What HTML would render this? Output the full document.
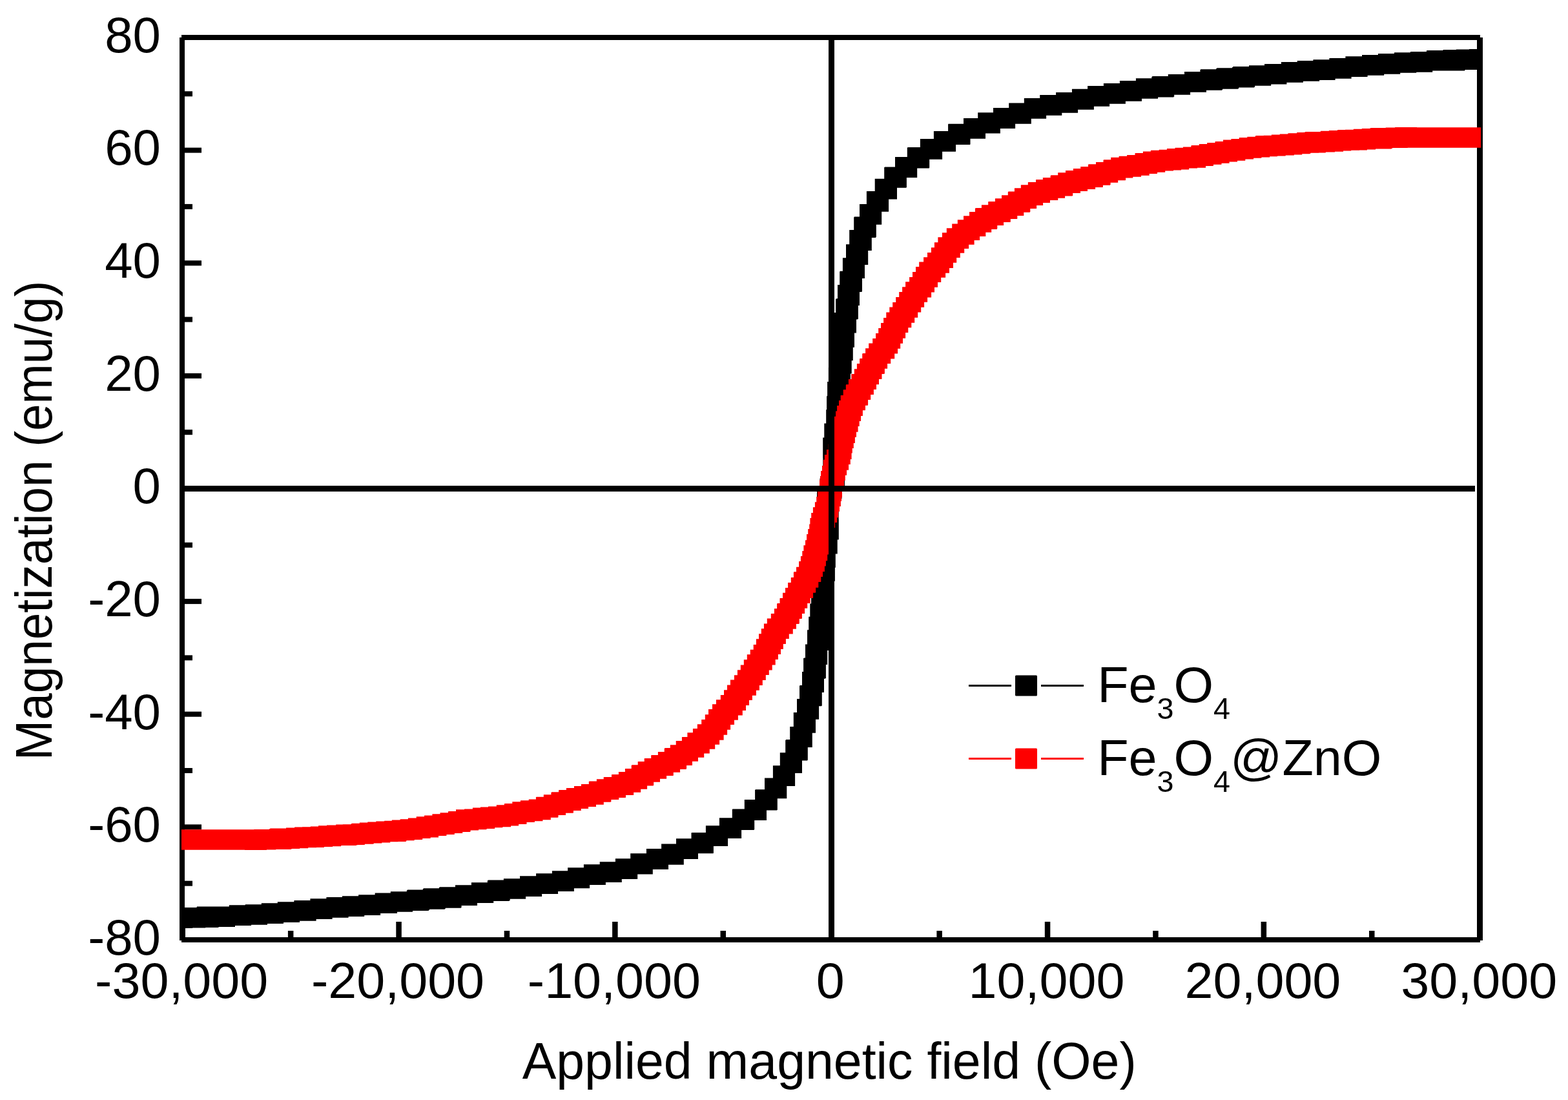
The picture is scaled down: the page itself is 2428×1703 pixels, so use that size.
<!DOCTYPE html>
<html><head><meta charset="utf-8"><title>Magnetization curves</title>
<style>html,body{margin:0;padding:0;background:#fff;}body{width:2428px;height:1703px;overflow:hidden;}svg{display:block;}</style>
</head><body>
<svg width="2428" height="1703" viewBox="0 0 2428 1703"><g fill="#000"><rect x="278" y="58" width="8" height="1398"/><rect x="281" y="54" width="2011" height="8"/><rect x="2287" y="58" width="9" height="1398"/><rect x="281" y="1451" width="2011" height="8"/><rect x="286" y="1451.0" width="26" height="8"/><rect x="286" y="1363.7" width="12" height="8"/><rect x="286" y="1276.4" width="26" height="8"/><rect x="286" y="1189.0" width="12" height="8"/><rect x="286" y="1101.7" width="26" height="8"/><rect x="286" y="1014.4" width="12" height="8"/><rect x="286" y="927.1" width="26" height="8"/><rect x="286" y="839.8" width="12" height="8"/><rect x="286" y="752.5" width="26" height="8"/><rect x="286" y="665.2" width="12" height="8"/><rect x="286" y="577.9" width="26" height="8"/><rect x="286" y="490.6" width="12" height="8"/><rect x="286" y="403.3" width="26" height="8"/><rect x="286" y="315.9" width="12" height="8"/><rect x="286" y="228.6" width="26" height="8"/><rect x="286" y="141.3" width="12" height="8"/><rect x="286" y="54.0" width="26" height="8"/><rect x="278.5" y="1427" width="8.5" height="24"/><rect x="445.9" y="1441" width="8.5" height="10"/><rect x="613.3" y="1427" width="8.5" height="24"/><rect x="780.7" y="1441" width="8.5" height="10"/><rect x="948.1" y="1427" width="8.5" height="24"/><rect x="1115.5" y="1441" width="8.5" height="10"/><rect x="1283.0" y="1427" width="8.5" height="24"/><rect x="1450.4" y="1441" width="8.5" height="10"/><rect x="1617.8" y="1427" width="8.5" height="24"/><rect x="1785.2" y="1441" width="8.5" height="10"/><rect x="1952.6" y="1427" width="8.5" height="24"/><rect x="2120.0" y="1441" width="8.5" height="10"/><rect x="2287.4" y="1427" width="8.5" height="24"/></g><defs><clipPath id="cp"><rect x="281" y="0" width="2012" height="1703"/></clipPath></defs><g clip-path="url(#cp)"><path fill="#000" d="M264.1 1405.3h34.0v31.6h-34.0zM284.2 1404.9h34.0v31.6h-34.0zM304.4 1404.4h34.0v31.6h-34.0zM304.8 1403.5h34.0v31.6h-34.0zM330.0 1403.4h34.0v31.6h-34.0zM354.8 1401.3h34.0v31.6h-34.0zM355.0 1401.4h34.0v31.6h-34.0zM379.8 1400.2h34.0v31.6h-34.0zM380.0 1400.2h34.0v31.6h-34.0zM405.0 1398.4h34.0v31.6h-34.0zM404.8 1398.2h34.0v31.6h-34.0zM429.8 1396.2h34.0v31.6h-34.0zM430.0 1396.3h34.0v31.6h-34.0zM455.6 1394.2h34.0v31.6h-34.0zM455.4 1394.0h34.0v31.6h-34.0zM480.4 1391.3h34.0v31.6h-34.0zM480.6 1391.4h34.0v31.6h-34.0zM505.4 1389.1h34.0v31.6h-34.0zM505.6 1389.2h34.0v31.6h-34.0zM529.9 1387.2h34.0v31.6h-34.0zM530.2 1387.3h34.0v31.6h-34.0zM555.1 1385.3h34.0v31.6h-34.0zM555.1 1385.2h34.0v31.6h-34.0zM580.6 1382.4h34.0v31.6h-34.0zM581.0 1382.5h34.0v31.6h-34.0zM604.8 1380.2h34.0v31.6h-34.0zM605.0 1380.2h34.0v31.6h-34.0zM629.8 1378.3h34.0v31.6h-34.0zM630.9 1377.5h34.0v31.6h-34.0zM654.8 1376.1h34.0v31.6h-34.0zM655.7 1375.3h34.0v31.6h-34.0zM679.9 1374.1h34.0v31.6h-34.0zM680.6 1373.3h34.0v31.6h-34.0zM705.0 1370.3h34.0v31.6h-34.0zM705.0 1370.2h34.0v31.6h-34.0zM729.9 1366.3h34.0v31.6h-34.0zM730.2 1366.4h34.0v31.6h-34.0zM754.8 1363.3h34.0v31.6h-34.0zM755.7 1362.4h34.0v31.6h-34.0zM779.9 1360.2h34.0v31.6h-34.0zM780.1 1360.2h34.0v31.6h-34.0zM805.0 1356.4h34.0v31.6h-34.0zM805.1 1356.3h34.0v31.6h-34.0zM830.1 1352.5h34.0v31.6h-34.0zM830.1 1352.3h34.0v31.6h-34.0zM854.9 1348.4h34.0v31.6h-34.0zM854.9 1348.3h34.0v31.6h-34.0zM879.1 1343.6h34.0v31.6h-34.0zM879.1 1343.3h34.0v31.6h-34.0zM903.9 1338.3h34.0v31.6h-34.0zM903.9 1338.3h34.0v31.6h-34.0zM928.8 1334.4h34.0v31.6h-34.0zM928.7 1334.2h34.0v31.6h-34.0zM952.9 1329.3h34.0v31.6h-34.0zM953.2 1329.2h34.0v31.6h-34.0zM976.8 1322.0h34.0v31.6h-34.0zM976.2 1321.3h34.0v31.6h-34.0zM1000.9 1314.3h34.0v31.6h-34.0zM1001.0 1314.1h34.0v31.6h-34.0zM1024.1 1306.6h34.0v31.6h-34.0zM1024.8 1307.1h34.0v31.6h-34.0zM1047.0 1298.5h34.0v31.6h-34.0zM1047.0 1298.2h34.0v31.6h-34.0zM1070.5 1289.6h34.0v31.6h-34.0zM1070.9 1289.1h34.0v31.6h-34.0zM1092.9 1278.4h34.0v31.6h-34.0zM1093.1 1278.2h34.0v31.6h-34.0zM1113.9 1266.2h34.0v31.6h-34.0zM1114.1 1266.3h34.0v31.6h-34.0zM1133.8 1253.3h34.0v31.6h-34.0zM1134.2 1252.5h34.0v31.6h-34.0zM1153.0 1238.3h34.0v31.6h-34.0zM1152.8 1238.0h34.0v31.6h-34.0zM1169.1 1222.8h34.0v31.6h-34.0zM1169.8 1222.3h34.0v31.6h-34.0zM1184.0 1204.4h34.0v31.6h-34.0zM1184.3 1204.7h34.0v31.6h-34.0zM1196.9 1185.3h34.0v31.6h-34.0zM1197.1 1185.2h34.0v31.6h-34.0zM1207.8 1165.3h34.0v31.6h-34.0zM1208.0 1165.3h34.0v31.6h-34.0zM1216.2 1146.0h34.0v31.6h-34.0zM1216.8 1145.1h34.0v31.6h-34.0zM1223.2 1125.0h34.0v31.6h-34.0zM1223.8 1125.3h34.0v31.6h-34.0zM1228.8 1103.0h34.0v31.6h-34.0zM1229.0 1103.2h34.0v31.6h-34.0zM1234.0 1082.2h34.0v31.6h-34.0zM1234.1 1082.1h34.0v31.6h-34.0zM1238.0 1061.6h34.0v31.6h-34.0zM1238.8 1061.1h34.0v31.6h-34.0zM1242.0 1040.3h34.0v31.6h-34.0zM1242.0 1040.1h34.0v31.6h-34.0zM1244.1 1019.1h34.0v31.6h-34.0zM1244.9 1018.5h34.0v31.6h-34.0zM1247.0 997.5h34.0v31.6h-34.0zM1247.2 997.4h34.0v31.6h-34.0zM1250.0 975.3h34.0v31.6h-34.0zM1252.2 954.8h34.0v31.6h-34.0zM1254.3 934.4h34.0v31.6h-34.0zM1256.1 912.4h34.0v31.6h-34.0zM1257.9 890.3h34.0v31.6h-34.0zM1258.9 868.2h34.0v31.6h-34.0zM1259.8 847.1h34.0v31.6h-34.0zM1262.7 826.0h34.0v31.6h-34.0zM1264.8 804.0h34.0v31.6h-34.0zM1264.7 782.7h34.0v31.6h-34.0zM1265.0 760.2h34.0v31.6h-34.0zM1269.5 740.7h34.0v31.6h-34.0zM1274.0 721.2h34.0v31.6h-34.0zM1274.3 698.7h34.0v31.6h-34.0zM1274.2 677.4h34.0v31.6h-34.0zM1276.3 655.4h34.0v31.6h-34.0zM1279.2 634.3h34.0v31.6h-34.0zM1280.1 613.2h34.0v31.6h-34.0zM1281.1 591.1h34.0v31.6h-34.0zM1282.9 569.1h34.0v31.6h-34.0zM1284.7 547.0h34.0v31.6h-34.0zM1286.8 526.6h34.0v31.6h-34.0zM1289.0 506.1h34.0v31.6h-34.0zM1291.8 484.0h34.0v31.6h-34.0zM1292.0 483.9h34.0v31.6h-34.0zM1294.1 462.9h34.0v31.6h-34.0zM1294.9 462.3h34.0v31.6h-34.0zM1297.0 441.3h34.0v31.6h-34.0zM1297.0 441.1h34.0v31.6h-34.0zM1300.2 420.3h34.0v31.6h-34.0zM1301.0 419.8h34.0v31.6h-34.0zM1304.9 399.3h34.0v31.6h-34.0zM1305.0 399.2h34.0v31.6h-34.0zM1310.0 378.2h34.0v31.6h-34.0zM1310.2 378.4h34.0v31.6h-34.0zM1315.2 356.1h34.0v31.6h-34.0zM1315.8 356.4h34.0v31.6h-34.0zM1322.2 336.3h34.0v31.6h-34.0zM1322.8 335.4h34.0v31.6h-34.0zM1331.0 316.1h34.0v31.6h-34.0zM1331.2 316.1h34.0v31.6h-34.0zM1341.9 296.2h34.0v31.6h-34.0zM1342.1 296.1h34.0v31.6h-34.0zM1355.0 277.0h34.0v31.6h-34.0zM1354.7 276.7h34.0v31.6h-34.0zM1369.2 259.1h34.0v31.6h-34.0zM1369.9 258.6h34.0v31.6h-34.0zM1386.2 243.4h34.0v31.6h-34.0zM1386.0 243.1h34.0v31.6h-34.0zM1404.8 228.9h34.0v31.6h-34.0zM1405.2 228.1h34.0v31.6h-34.0zM1424.9 215.1h34.0v31.6h-34.0zM1425.1 215.2h34.0v31.6h-34.0zM1445.9 203.2h34.0v31.6h-34.0zM1446.1 203.0h34.0v31.6h-34.0zM1468.1 192.3h34.0v31.6h-34.0zM1468.5 191.8h34.0v31.6h-34.0zM1492.0 183.2h34.0v31.6h-34.0zM1492.0 182.9h34.0v31.6h-34.0zM1514.2 174.3h34.0v31.6h-34.0zM1514.9 174.8h34.0v31.6h-34.0zM1538.0 167.3h34.0v31.6h-34.0zM1538.1 167.1h34.0v31.6h-34.0zM1562.8 160.1h34.0v31.6h-34.0zM1562.2 159.4h34.0v31.6h-34.0zM1585.8 152.2h34.0v31.6h-34.0zM1586.1 152.1h34.0v31.6h-34.0zM1610.3 147.2h34.0v31.6h-34.0zM1610.2 147.0h34.0v31.6h-34.0zM1635.1 143.1h34.0v31.6h-34.0zM1635.1 143.1h34.0v31.6h-34.0zM1659.9 138.1h34.0v31.6h-34.0zM1659.9 137.8h34.0v31.6h-34.0zM1684.1 133.1h34.0v31.6h-34.0zM1684.1 133.0h34.0v31.6h-34.0zM1708.9 129.1h34.0v31.6h-34.0zM1708.9 128.9h34.0v31.6h-34.0zM1733.9 125.1h34.0v31.6h-34.0zM1734.0 125.0h34.0v31.6h-34.0zM1758.9 121.2h34.0v31.6h-34.0zM1759.1 121.2h34.0v31.6h-34.0zM1783.3 119.0h34.0v31.6h-34.0zM1784.2 118.1h34.0v31.6h-34.0zM1808.8 115.0h34.0v31.6h-34.0zM1809.1 115.1h34.0v31.6h-34.0zM1834.0 111.2h34.0v31.6h-34.0zM1834.0 111.1h34.0v31.6h-34.0zM1858.4 108.1h34.0v31.6h-34.0zM1859.1 107.3h34.0v31.6h-34.0zM1883.3 106.1h34.0v31.6h-34.0zM1884.2 105.3h34.0v31.6h-34.0zM1908.1 103.9h34.0v31.6h-34.0zM1909.2 103.1h34.0v31.6h-34.0zM1934.0 101.2h34.0v31.6h-34.0zM1934.2 101.2h34.0v31.6h-34.0zM1958.0 98.9h34.0v31.6h-34.0zM1958.4 99.0h34.0v31.6h-34.0zM1983.9 96.2h34.0v31.6h-34.0zM1983.9 96.1h34.0v31.6h-34.0zM2008.8 94.1h34.0v31.6h-34.0zM2009.1 94.2h34.0v31.6h-34.0zM2033.4 92.2h34.0v31.6h-34.0zM2033.6 92.3h34.0v31.6h-34.0zM2058.4 90.0h34.0v31.6h-34.0zM2058.6 90.1h34.0v31.6h-34.0zM2083.6 87.4h34.0v31.6h-34.0zM2083.4 87.2h34.0v31.6h-34.0zM2109.0 85.1h34.0v31.6h-34.0zM2109.2 85.2h34.0v31.6h-34.0zM2134.2 83.2h34.0v31.6h-34.0zM2134.0 83.0h34.0v31.6h-34.0zM2159.0 81.2h34.0v31.6h-34.0zM2159.2 81.2h34.0v31.6h-34.0zM2184.0 80.0h34.0v31.6h-34.0zM2184.2 80.1h34.0v31.6h-34.0zM2209.0 78.0h34.0v31.6h-34.0zM2234.2 77.9h34.0v31.6h-34.0zM2234.6 77.0h34.0v31.6h-34.0zM2254.8 76.5h34.0v31.6h-34.0zM2274.9 76.1h34.0v31.6h-34.0z"/><path fill="#fe0000" d="M264.5 1284.2h34.0v31.6h-34.0zM271.0 1284.2h34.0v31.6h-34.0zM291.0 1284.2h34.0v31.6h-34.0zM311.0 1284.2h34.0v31.6h-34.0zM331.0 1284.2h34.0v31.6h-34.0zM351.0 1284.2h34.0v31.6h-34.0zM371.0 1284.2h34.0v31.6h-34.0zM378.9 1284.4h34.0v31.6h-34.0zM393.3 1283.9h34.0v31.6h-34.0zM416.9 1283.3h34.0v31.6h-34.0zM418.3 1282.6h34.0v31.6h-34.0zM430.2 1282.4h34.0v31.6h-34.0zM443.2 1281.6h34.0v31.6h-34.0zM443.0 1281.4h34.0v31.6h-34.0zM456.1 1280.6h34.0v31.6h-34.0zM468.0 1280.3h34.0v31.6h-34.0zM480.8 1279.4h34.0v31.6h-34.0zM481.1 1279.5h34.0v31.6h-34.0zM493.0 1278.3h34.0v31.6h-34.0zM494.2 1278.6h34.0v31.6h-34.0zM506.0 1277.5h34.0v31.6h-34.0zM517.9 1277.4h34.0v31.6h-34.0zM520.2 1276.6h34.0v31.6h-34.0zM530.8 1276.3h34.0v31.6h-34.0zM543.6 1275.2h34.0v31.6h-34.0zM544.8 1274.8h34.0v31.6h-34.0zM556.8 1273.6h34.0v31.6h-34.0zM557.3 1273.9h34.0v31.6h-34.0zM569.2 1272.4h34.0v31.6h-34.0zM570.2 1272.8h34.0v31.6h-34.0zM582.3 1271.6h34.0v31.6h-34.0zM594.7 1271.3h34.0v31.6h-34.0zM595.3 1270.7h34.0v31.6h-34.0zM606.8 1269.4h34.0v31.6h-34.0zM607.7 1269.6h34.0v31.6h-34.0zM619.5 1268.5h34.0v31.6h-34.0zM620.2 1268.3h34.0v31.6h-34.0zM631.9 1266.4h34.0v31.6h-34.0zM632.6 1266.4h34.0v31.6h-34.0zM645.0 1264.8h34.0v31.6h-34.0zM644.7 1264.2h34.0v31.6h-34.0zM657.0 1262.5h34.0v31.6h-34.0zM657.4 1262.4h34.0v31.6h-34.0zM669.4 1260.2h34.0v31.6h-34.0zM669.8 1260.5h34.0v31.6h-34.0zM681.5 1258.3h34.0v31.6h-34.0zM682.2 1258.5h34.0v31.6h-34.0zM694.0 1256.3h34.0v31.6h-34.0zM694.6 1255.9h34.0v31.6h-34.0zM706.0 1253.3h34.0v31.6h-34.0zM707.1 1253.9h34.0v31.6h-34.0zM719.0 1252.4h34.0v31.6h-34.0zM719.5 1252.6h34.0v31.6h-34.0zM732.1 1251.3h34.0v31.6h-34.0zM731.9 1250.4h34.0v31.6h-34.0zM743.9 1249.4h34.0v31.6h-34.0zM744.3 1249.6h34.0v31.6h-34.0zM756.0 1248.5h34.0v31.6h-34.0zM757.1 1248.7h34.0v31.6h-34.0zM769.1 1246.8h34.0v31.6h-34.0zM768.8 1246.3h34.0v31.6h-34.0zM780.9 1244.3h34.0v31.6h-34.0zM781.5 1244.1h34.0v31.6h-34.0zM793.3 1241.3h34.0v31.6h-34.0zM793.9 1241.5h34.0v31.6h-34.0zM805.9 1239.3h34.0v31.6h-34.0zM806.4 1239.6h34.0v31.6h-34.0zM818.8 1237.6h34.0v31.6h-34.0zM818.7 1237.4h34.0v31.6h-34.0zM829.9 1234.1h34.0v31.6h-34.0zM830.5 1233.7h34.0v31.6h-34.0zM841.8 1230.4h34.0v31.6h-34.0zM842.0 1230.4h34.0v31.6h-34.0zM841.9 1230.3h34.0v31.6h-34.0zM853.4 1226.9h34.0v31.6h-34.0zM853.7 1227.1h34.0v31.6h-34.0zM854.0 1226.2h34.0v31.6h-34.0zM865.1 1223.3h34.0v31.6h-34.0zM865.8 1223.5h34.0v31.6h-34.0zM865.8 1223.1h34.0v31.6h-34.0zM876.9 1220.3h34.0v31.6h-34.0zM877.1 1220.1h34.0v31.6h-34.0zM889.0 1217.3h34.0v31.6h-34.0zM889.0 1217.0h34.0v31.6h-34.0zM900.0 1214.0h34.0v31.6h-34.0zM900.8 1214.2h34.0v31.6h-34.0zM911.8 1210.1h34.0v31.6h-34.0zM912.4 1209.4h34.0v31.6h-34.0zM923.9 1206.3h34.0v31.6h-34.0zM924.2 1206.4h34.0v31.6h-34.0zM934.7 1203.3h34.0v31.6h-34.0zM935.0 1202.9h34.0v31.6h-34.0zM947.0 1199.4h34.0v31.6h-34.0zM947.2 1199.0h34.0v31.6h-34.0zM957.9 1195.1h34.0v31.6h-34.0zM958.2 1195.0h34.0v31.6h-34.0zM967.9 1190.2h34.0v31.6h-34.0zM968.1 1190.1h34.0v31.6h-34.0zM977.7 1185.0h34.0v31.6h-34.0zM978.2 1184.2h34.0v31.6h-34.0zM987.7 1179.1h34.0v31.6h-34.0zM988.0 1179.1h34.0v31.6h-34.0zM997.7 1174.2h34.0v31.6h-34.0zM998.1 1174.1h34.0v31.6h-34.0zM1008.2 1169.3h34.0v31.6h-34.0zM1008.8 1169.1h34.0v31.6h-34.0zM1018.9 1164.1h34.0v31.6h-34.0zM1019.1 1164.1h34.0v31.6h-34.0zM1028.7 1159.3h34.0v31.6h-34.0zM1029.1 1158.1h34.0v31.6h-34.0zM1037.8 1153.3h34.0v31.6h-34.0zM1038.0 1153.2h34.0v31.6h-34.0zM1046.7 1147.1h34.0v31.6h-34.0zM1047.0 1147.1h34.0v31.6h-34.0zM1055.9 1141.2h34.0v31.6h-34.0zM1056.2 1141.1h34.0v31.6h-34.0zM1064.8 1135.0h34.0v31.6h-34.0zM1064.4 1134.3h34.0v31.6h-34.0zM1072.9 1128.2h34.0v31.6h-34.0zM1073.2 1128.1h34.0v31.6h-34.0zM1079.8 1121.2h34.0v31.6h-34.0zM1080.1 1121.2h34.0v31.6h-34.0zM1086.2 1114.0h34.0v31.6h-34.0zM1086.6 1114.1h34.0v31.6h-34.0zM1091.8 1106.2h34.0v31.6h-34.0zM1092.1 1106.2h34.0v31.6h-34.0zM1097.0 1098.1h34.0v31.6h-34.0zM1097.1 1098.1h34.0v31.6h-34.0zM1103.0 1090.3h34.0v31.6h-34.0zM1108.9 1083.2h34.0v31.6h-34.0zM1115.8 1076.0h34.0v31.6h-34.0zM1121.0 1068.3h34.0v31.6h-34.0zM1126.0 1060.5h34.0v31.6h-34.0zM1130.9 1052.4h34.0v31.6h-34.0zM1136.9 1045.2h34.0v31.6h-34.0zM1141.9 1037.2h34.0v31.6h-34.0zM1146.8 1029.4h34.0v31.6h-34.0zM1151.8 1021.3h34.0v31.6h-34.0zM1156.8 1013.3h34.0v31.6h-34.0zM1161.7 1005.8h34.0v31.6h-34.0zM1166.7 998.0h34.0v31.6h-34.0zM1170.9 989.3h34.0v31.6h-34.0zM1175.0 981.3h34.0v31.6h-34.0zM1178.8 973.3h34.0v31.6h-34.0zM1182.9 965.4h34.0v31.6h-34.0zM1187.8 957.4h34.0v31.6h-34.0zM1193.8 949.9h34.0v31.6h-34.0zM1198.9 942.2h34.0v31.6h-34.0zM1203.1 934.4h34.0v31.6h-34.0zM1203.8 934.0h34.0v31.6h-34.0zM1207.5 926.3h34.0v31.6h-34.0zM1207.9 925.9h34.0v31.6h-34.0zM1212.0 918.3h34.0v31.6h-34.0zM1212.1 917.8h34.0v31.6h-34.0zM1216.0 910.2h34.0v31.6h-34.0zM1216.2 910.1h34.0v31.6h-34.0zM1220.1 902.1h34.0v31.6h-34.0zM1220.7 902.4h34.0v31.6h-34.0zM1224.8 894.3h34.0v31.6h-34.0zM1225.1 894.0h34.0v31.6h-34.0zM1228.9 886.2h34.0v31.6h-34.0zM1229.2 885.3h34.0v31.6h-34.0zM1233.0 878.2h34.0v31.6h-34.0zM1233.3 877.8h34.0v31.6h-34.0zM1237.1 869.5h34.0v31.6h-34.0zM1237.3 869.1h34.0v31.6h-34.0zM1239.9 861.4h34.0v31.6h-34.0zM1240.0 861.1h34.0v31.6h-34.0zM1242.3 853.0h34.0v31.6h-34.0zM1242.9 853.3h34.0v31.6h-34.0zM1244.9 845.0h34.0v31.6h-34.0zM1244.4 844.3h34.0v31.6h-34.0zM1247.0 836.6h34.0v31.6h-34.0zM1247.2 836.2h34.0v31.6h-34.0zM1249.1 826.9h34.0v31.6h-34.0zM1251.2 819.1h34.0v31.6h-34.0zM1253.2 811.4h34.0v31.6h-34.0zM1254.4 802.1h34.0v31.6h-34.0zM1256.2 794.0h34.0v31.6h-34.0zM1258.9 785.4h34.0v31.6h-34.0zM1259.0 785.3h34.0v31.6h-34.0zM1261.9 777.3h34.0v31.6h-34.0zM1262.1 777.2h34.0v31.6h-34.0zM1264.2 769.6h34.0v31.6h-34.0zM1264.2 769.1h34.0v31.6h-34.0zM1266.0 760.3h34.0v31.6h-34.0zM1267.9 752.5h34.0v31.6h-34.0zM1269.0 744.5h34.0v31.6h-34.0zM1269.1 743.1h34.0v31.6h-34.0zM1269.9 738.3h34.0v31.6h-34.0zM1270.0 736.9h34.0v31.6h-34.0zM1271.1 728.9h34.0v31.6h-34.0zM1273.0 721.1h34.0v31.6h-34.0zM1274.8 712.3h34.0v31.6h-34.0zM1274.8 711.8h34.0v31.6h-34.0zM1276.9 704.2h34.0v31.6h-34.0zM1277.1 704.1h34.0v31.6h-34.0zM1280.0 696.1h34.0v31.6h-34.0zM1280.1 696.0h34.0v31.6h-34.0zM1282.8 687.4h34.0v31.6h-34.0zM1284.6 679.3h34.0v31.6h-34.0zM1285.8 670.0h34.0v31.6h-34.0zM1287.8 662.3h34.0v31.6h-34.0zM1289.9 654.5h34.0v31.6h-34.0zM1291.8 645.2h34.0v31.6h-34.0zM1292.0 644.8h34.0v31.6h-34.0zM1294.6 637.1h34.0v31.6h-34.0zM1294.1 636.4h34.0v31.6h-34.0zM1296.1 628.1h34.0v31.6h-34.0zM1296.7 628.4h34.0v31.6h-34.0zM1299.0 620.3h34.0v31.6h-34.0zM1299.1 620.0h34.0v31.6h-34.0zM1301.7 612.3h34.0v31.6h-34.0zM1301.9 611.9h34.0v31.6h-34.0zM1305.7 603.6h34.0v31.6h-34.0zM1306.0 603.2h34.0v31.6h-34.0zM1309.8 596.1h34.0v31.6h-34.0zM1310.1 595.2h34.0v31.6h-34.0zM1313.9 587.4h34.0v31.6h-34.0zM1314.2 587.1h34.0v31.6h-34.0zM1318.3 579.0h34.0v31.6h-34.0zM1318.9 579.3h34.0v31.6h-34.0zM1322.8 571.3h34.0v31.6h-34.0zM1323.0 571.2h34.0v31.6h-34.0zM1326.9 563.6h34.0v31.6h-34.0zM1327.0 563.1h34.0v31.6h-34.0zM1331.1 555.5h34.0v31.6h-34.0zM1331.5 555.1h34.0v31.6h-34.0zM1335.2 547.4h34.0v31.6h-34.0zM1335.9 547.0h34.0v31.6h-34.0zM1340.1 539.2h34.0v31.6h-34.0zM1345.2 531.5h34.0v31.6h-34.0zM1351.2 524.0h34.0v31.6h-34.0zM1356.1 516.0h34.0v31.6h-34.0zM1360.2 508.1h34.0v31.6h-34.0zM1364.0 500.1h34.0v31.6h-34.0zM1368.1 492.1h34.0v31.6h-34.0zM1372.3 483.4h34.0v31.6h-34.0zM1377.3 475.6h34.0v31.6h-34.0zM1382.2 468.1h34.0v31.6h-34.0zM1387.2 460.1h34.0v31.6h-34.0zM1392.2 452.0h34.0v31.6h-34.0zM1397.1 444.2h34.0v31.6h-34.0zM1402.1 436.2h34.0v31.6h-34.0zM1408.1 429.0h34.0v31.6h-34.0zM1413.0 420.9h34.0v31.6h-34.0zM1418.0 413.1h34.0v31.6h-34.0zM1423.2 405.4h34.0v31.6h-34.0zM1430.1 398.2h34.0v31.6h-34.0zM1436.0 391.1h34.0v31.6h-34.0zM1441.9 383.3h34.0v31.6h-34.0zM1442.0 383.3h34.0v31.6h-34.0zM1446.9 375.2h34.0v31.6h-34.0zM1447.2 375.2h34.0v31.6h-34.0zM1452.4 367.3h34.0v31.6h-34.0zM1452.8 367.4h34.0v31.6h-34.0zM1458.9 360.2h34.0v31.6h-34.0zM1459.2 360.2h34.0v31.6h-34.0zM1465.8 353.3h34.0v31.6h-34.0zM1466.1 353.2h34.0v31.6h-34.0zM1474.6 347.1h34.0v31.6h-34.0zM1474.2 346.4h34.0v31.6h-34.0zM1482.8 340.3h34.0v31.6h-34.0zM1483.1 340.2h34.0v31.6h-34.0zM1492.0 334.3h34.0v31.6h-34.0zM1492.3 334.3h34.0v31.6h-34.0zM1501.0 328.2h34.0v31.6h-34.0zM1501.2 328.1h34.0v31.6h-34.0zM1509.9 323.3h34.0v31.6h-34.0zM1510.3 322.1h34.0v31.6h-34.0zM1519.9 317.3h34.0v31.6h-34.0zM1520.1 317.3h34.0v31.6h-34.0zM1530.2 312.3h34.0v31.6h-34.0zM1530.8 312.1h34.0v31.6h-34.0zM1540.9 307.3h34.0v31.6h-34.0zM1541.3 307.2h34.0v31.6h-34.0zM1551.0 302.3h34.0v31.6h-34.0zM1551.3 302.3h34.0v31.6h-34.0zM1560.8 297.2h34.0v31.6h-34.0zM1561.3 296.4h34.0v31.6h-34.0zM1570.9 291.3h34.0v31.6h-34.0zM1571.1 291.2h34.0v31.6h-34.0zM1580.8 286.4h34.0v31.6h-34.0zM1581.1 286.3h34.0v31.6h-34.0zM1591.8 282.4h34.0v31.6h-34.0zM1592.0 282.0h34.0v31.6h-34.0zM1604.0 278.5h34.0v31.6h-34.0zM1604.3 278.1h34.0v31.6h-34.0zM1614.8 275.0h34.0v31.6h-34.0zM1615.1 275.1h34.0v31.6h-34.0zM1626.6 272.0h34.0v31.6h-34.0zM1627.2 271.3h34.0v31.6h-34.0zM1638.2 267.2h34.0v31.6h-34.0zM1639.0 267.4h34.0v31.6h-34.0zM1650.0 264.4h34.0v31.6h-34.0zM1650.0 264.1h34.0v31.6h-34.0zM1661.9 261.3h34.0v31.6h-34.0zM1662.1 261.1h34.0v31.6h-34.0zM1673.2 258.3h34.0v31.6h-34.0zM1673.2 257.9h34.0v31.6h-34.0zM1673.9 258.1h34.0v31.6h-34.0zM1685.0 255.2h34.0v31.6h-34.0zM1685.3 254.3h34.0v31.6h-34.0zM1685.6 254.5h34.0v31.6h-34.0zM1697.1 251.1h34.0v31.6h-34.0zM1697.0 251.0h34.0v31.6h-34.0zM1697.2 251.0h34.0v31.6h-34.0zM1708.5 247.7h34.0v31.6h-34.0zM1709.1 247.3h34.0v31.6h-34.0zM1720.3 244.0h34.0v31.6h-34.0zM1720.2 243.8h34.0v31.6h-34.0zM1732.6 241.8h34.0v31.6h-34.0zM1733.1 242.1h34.0v31.6h-34.0zM1745.1 239.9h34.0v31.6h-34.0zM1745.7 240.1h34.0v31.6h-34.0zM1757.5 237.3h34.0v31.6h-34.0zM1758.1 237.1h34.0v31.6h-34.0zM1770.2 235.1h34.0v31.6h-34.0zM1769.9 234.6h34.0v31.6h-34.0zM1781.9 232.7h34.0v31.6h-34.0zM1783.0 232.9h34.0v31.6h-34.0zM1794.7 231.8h34.0v31.6h-34.0zM1795.1 232.0h34.0v31.6h-34.0zM1807.1 231.0h34.0v31.6h-34.0zM1806.9 230.1h34.0v31.6h-34.0zM1819.5 228.8h34.0v31.6h-34.0zM1820.0 229.0h34.0v31.6h-34.0zM1831.9 227.5h34.0v31.6h-34.0zM1833.0 228.1h34.0v31.6h-34.0zM1844.4 225.5h34.0v31.6h-34.0zM1845.0 225.1h34.0v31.6h-34.0zM1856.8 222.9h34.0v31.6h-34.0zM1857.5 223.1h34.0v31.6h-34.0zM1869.2 220.9h34.0v31.6h-34.0zM1869.6 221.2h34.0v31.6h-34.0zM1881.6 219.0h34.0v31.6h-34.0zM1882.0 218.9h34.0v31.6h-34.0zM1894.3 217.2h34.0v31.6h-34.0zM1894.0 216.6h34.0v31.6h-34.0zM1906.4 215.0h34.0v31.6h-34.0zM1907.1 215.0h34.0v31.6h-34.0zM1918.8 213.1h34.0v31.6h-34.0zM1919.5 212.9h34.0v31.6h-34.0zM1931.3 211.8h34.0v31.6h-34.0zM1932.2 212.0h34.0v31.6h-34.0zM1943.7 210.7h34.0v31.6h-34.0zM1944.3 210.1h34.0v31.6h-34.0zM1956.7 209.8h34.0v31.6h-34.0zM1968.8 208.6h34.0v31.6h-34.0zM1969.8 209.0h34.0v31.6h-34.0zM1981.7 207.5h34.0v31.6h-34.0zM1982.2 207.8h34.0v31.6h-34.0zM1994.2 206.6h34.0v31.6h-34.0zM1995.4 206.2h34.0v31.6h-34.0zM2008.2 205.1h34.0v31.6h-34.0zM2018.8 204.8h34.0v31.6h-34.0zM2021.1 204.0h34.0v31.6h-34.0zM2033.0 203.9h34.0v31.6h-34.0zM2044.8 202.8h34.0v31.6h-34.0zM2046.0 203.1h34.0v31.6h-34.0zM2057.9 201.9h34.0v31.6h-34.0zM2058.2 202.0h34.0v31.6h-34.0zM2071.0 201.1h34.0v31.6h-34.0zM2082.9 200.8h34.0v31.6h-34.0zM2096.0 200.0h34.0v31.6h-34.0zM2095.8 199.8h34.0v31.6h-34.0zM2108.8 199.0h34.0v31.6h-34.0zM2120.7 198.8h34.0v31.6h-34.0zM2122.1 198.1h34.0v31.6h-34.0zM2145.7 197.5h34.0v31.6h-34.0zM2160.1 197.0h34.0v31.6h-34.0zM2168.0 197.2h34.0v31.6h-34.0zM2188.0 197.2h34.0v31.6h-34.0zM2208.0 197.2h34.0v31.6h-34.0zM2228.0 197.2h34.0v31.6h-34.0zM2248.0 197.2h34.0v31.6h-34.0zM2268.0 197.2h34.0v31.6h-34.0zM2274.5 197.2h34.0v31.6h-34.0z"/></g><rect x="1283" y="62" width="9" height="1389" fill="#000"/><rect x="286" y="752" width="1998" height="9" fill="#000"/><g style="font-family:'Liberation Sans',Arial,sans-serif;font-size:78px" text-anchor="end"><text x="249" y="1477.8">-80</text><text x="249" y="1303.2">-60</text><text x="249" y="1128.5">-40</text><text x="249" y="953.9">-20</text><text x="249" y="779.3">0</text><text x="249" y="604.7">20</text><text x="249" y="430.1">40</text><text x="249" y="255.4">60</text><text x="249" y="80.8">80</text></g><g style="font-family:'Liberation Sans',Arial,sans-serif;font-size:78px" text-anchor="middle"><text transform="translate(281.2,1544.5) scale(1.014,1)">-30,000</text><text transform="translate(616.0,1544.5) scale(1.014,1)">-20,000</text><text transform="translate(950.9,1544.5) scale(1.014,1)">-10,000</text><text transform="translate(1285.7,1544.5) scale(1.014,1)">0</text><text transform="translate(1620.5,1544.5) scale(1.014,1)">10,000</text><text transform="translate(1955.4,1544.5) scale(1.014,1)">20,000</text><text transform="translate(2290.2,1544.5) scale(1.014,1)">30,000</text></g><text x="808.7" y="1670" style="font-family:'Liberation Sans',Arial,sans-serif;font-size:78.85px">Applied magnetic field (Oe)</text><text transform="translate(80,1176.9) rotate(-90) scale(1,1.072)" style="font-family:'Liberation Sans',Arial,sans-serif;font-size:74.6px">Magnetization (emu/g)</text><rect x="1500" y="1060.0" width="66" height="3" fill="#000"/><rect x="1612" y="1060.0" width="66" height="3" fill="#000"/><rect x="1572" y="1045.6" width="34" height="31.8" rx="1.5" fill="#000"/><text transform="translate(1699.2,1086.5) scale(1.015,1)" style="font-family:'Liberation Sans',Arial,sans-serif;font-size:78px">Fe<tspan font-size="46" dy="26">3</tspan><tspan dy="-26">O</tspan><tspan font-size="46" dy="26">4</tspan></text><rect x="1500" y="1173.0" width="66" height="3" fill="#fe0000"/><rect x="1612" y="1173.0" width="66" height="3" fill="#fe0000"/><rect x="1572" y="1158.6" width="34" height="31.8" rx="1.5" fill="#fe0000"/><text transform="translate(1699.2,1199.9) scale(1.015,1)" style="font-family:'Liberation Sans',Arial,sans-serif;font-size:78px">Fe<tspan font-size="46" dy="26">3</tspan><tspan dy="-26">O</tspan><tspan font-size="46" dy="26">4</tspan><tspan dy="-26">@ZnO</tspan></text></svg>
</body></html>
